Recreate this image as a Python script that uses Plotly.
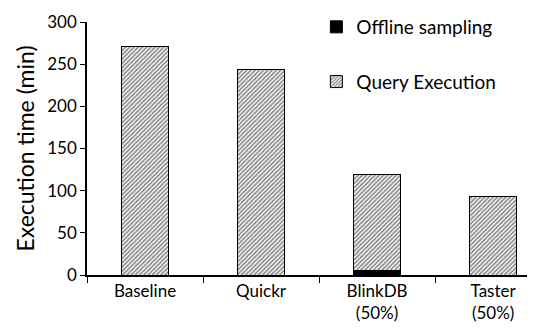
import plotly.graph_objects as go

categories = ["Baseline", "Quickr", "BlinkDB<br>(50%)", "Taster<br>(50%)"]
offline_sampling = [0, 0, 5, 0]
query_execution = [271, 244, 114, 93]

font_family = "Lato, 'Open Sans', sans-serif"

fig = go.Figure()
fig.add_trace(go.Bar(
    x=categories, y=offline_sampling, name="Offline sampling",
    marker=dict(color="black", line=dict(color="black", width=1)),
    width=0.405, legendgroup="a",
))
fig.add_trace(go.Bar(
    x=categories, y=query_execution, name="Query Execution",
    marker=dict(color="white", line=dict(color="black", width=1),
                pattern=dict(shape="/", size=3, solidity=0.55, fgcolor="#111", bgcolor="white")),
    width=0.405, legendgroup="b",
))

fig.update_layout(
    width=535, height=329,
    margin=dict(l=79, r=0, t=14, b=62),
    barmode="stack",
    plot_bgcolor="white", paper_bgcolor="white",
    font=dict(family=font_family, size=17, color="black"),
    showlegend=True,
    legend=dict(x=0.503, y=1.056, xanchor="left", yanchor="top",
                traceorder="grouped", tracegroupgap=27,
                font=dict(size=19), bgcolor="rgba(0,0,0,0)"),
    xaxis=dict(range=[-0.5, 3.43], showline=True, linecolor="black", linewidth=1.5,
               ticks="outside", tickson="boundaries", ticklen=6, tickcolor="black",
               showgrid=False, tickfont=dict(size=17)),
    yaxis=dict(range=[0, 300], dtick=50, showline=True, linecolor="black", linewidth=1.5,
               ticks="outside", ticklen=5, tickcolor="black", showgrid=False,
               zeroline=False, tickfont=dict(size=17),
               title=dict(text="Execution time (min)", font=dict(size=23), standoff=6)),
)

fig.write_html("out.html")
